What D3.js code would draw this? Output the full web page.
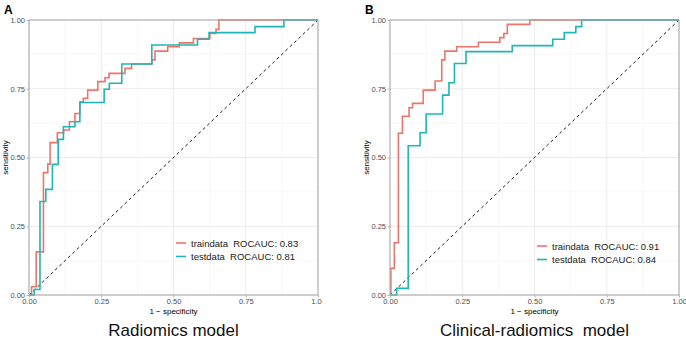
<!DOCTYPE html>
<html>
<head>
<meta charset="utf-8">
<script src="https://cdn.jsdelivr.net/npm/d3@7"></script>
<style>
  body { margin: 0; background: #fff; }
  svg { display: block; font-family: "Liberation Sans", Arial, sans-serif; }
  .tick text { fill: #4d4d4d; font-size: 7.5px; }
  .tick line { stroke: #b3b3b3; }
  .domain { display: none; }
</style>
</head>
<body>
<svg id="chart" width="686" height="344"></svg>
<script>
// ROC step points: horizontal to fpr[i], then up to tpr[i]
const fprTrainA = [0, 0.009, 0.025, 0.05, 0.065, 0.073, 0.098, 0.12, 0.14, 0.159, 0.176, 0.188, 0.203, 0.238, 0.263, 0.277, 0.332, 0.355, 0.425, 0.436, 0.48, 0.52, 0.569, 0.626, 0.647, 0.657, 1];
const tprTrainA = [0, 0.03, 0.157, 0.445, 0.476, 0.554, 0.59, 0.60, 0.63, 0.66, 0.703, 0.715, 0.745, 0.776, 0.79, 0.806, 0.824, 0.84, 0.855, 0.887, 0.903, 0.917, 0.933, 0.951, 0.966, 1, 1];
const fprTestA = [0, 0.018, 0.038, 0.058, 0.081, 0.101, 0.119, 0.159, 0.176, 0.26, 0.278, 0.321, 0.425, 0.583, 0.623, 0.782, 0.882, 1];
const tprTestA = [0, 0.02, 0.34, 0.384, 0.475, 0.566, 0.612, 0.63, 0.70, 0.748, 0.77, 0.84, 0.909, 0.93, 0.954, 0.976, 1, 1];

const fprTrainB = [0, 0.003, 0.015, 0.029, 0.043, 0.066, 0.078, 0.115, 0.156, 0.179, 0.19, 0.231, 0.306, 0.38, 0.394, 0.406, 0.484, 1];
const tprTrainB = [0, 0.097, 0.19, 0.588, 0.65, 0.681, 0.697, 0.745, 0.778, 0.855, 0.887, 0.903, 0.919, 0.936, 0.951, 0.984, 1, 1];
const fprTestB = [0, 0.023, 0.063, 0.104, 0.125, 0.182, 0.204, 0.223, 0.263, 0.423, 0.563, 0.603, 0.643, 0.663, 1];
const tprTestB = [0, 0.024, 0.543, 0.59, 0.658, 0.727, 0.772, 0.842, 0.885, 0.907, 0.93, 0.954, 0.976, 1, 1];

const tickValues = [0, 0.25, 0.5, 0.75, 1];
const seriesNames = ["traindata", "testdata"];
const aucA = [0.83, 0.81];
const aucB = [0.91, 0.84];
const colors = ["#EE746B", "#1EB6B8"];

const svg = d3.select("#chart");

const panels = [
  { tag: "A", left: 29, right: 318, title: "Radiomics model", clip: 322,
    lines: [[fprTrainA, tprTrainA], [fprTestA, tprTestA]], auc: aucA, legX: 176, legY: 243 },
  { tag: "B", left: 390, right: 679, title: "Clinical-radiomics  model", clip: 686,
    lines: [[fprTrainB, tprTrainB], [fprTestB, tprTestB]], auc: aucB, legX: 537, legY: 246 }
];

const plotTop = 20, plotBottom = 295;

panels.forEach(function(p, pi) {
  let x = d3.scaleLinear().domain([0, 1]).range([p.left, p.right]),
      y = d3.scaleLinear().domain([0, 1]).range([plotBottom, plotTop]);

  svg.append("clipPath").attr("id", "clip" + pi)
     .append("rect").attr("x", p.left - 40).attr("y", 0)
     .attr("width", p.clip - p.left + 40).attr("height", 344);

  let g = svg.append("g").attr("clip-path", "url(#clip" + pi + ")");

  // grid, minor then major
  let minor = d3.range(0.125, 1, 0.25);
  g.selectAll(".vminor").data(minor).join("line")
   .attr("x1", d => x(d)).attr("x2", d => x(d)).attr("y1", plotTop).attr("y2", plotBottom)
   .attr("stroke", "#f2f2f2").attr("stroke-width", 0.6);
  g.selectAll(".hminor").data(minor).join("line")
   .attr("y1", d => y(d)).attr("y2", d => y(d)).attr("x1", p.left).attr("x2", p.right)
   .attr("stroke", "#f2f2f2").attr("stroke-width", 0.6);
  g.selectAll(".vmajor").data(tickValues).join("line")
   .attr("x1", d => x(d)).attr("x2", d => x(d)).attr("y1", plotTop).attr("y2", plotBottom)
   .attr("stroke", "#e6e6e6").attr("stroke-width", 0.8);
  g.selectAll(".hmajor").data(tickValues).join("line")
   .attr("y1", d => y(d)).attr("y2", d => y(d)).attr("x1", p.left).attr("x2", p.right)
   .attr("stroke", "#e6e6e6").attr("stroke-width", 0.8);

  // diagonal reference
  g.append("line")
   .attr("x1", x(0)).attr("y1", y(0)).attr("x2", x(1)).attr("y2", y(1))
   .attr("stroke", "#000").attr("stroke-width", 0.9).attr("stroke-dasharray", "3,3");

  // ROC curves, test drawn last
  let line = d3.line().x(d => x(d[0])).y(d => y(d[1])).curve(d3.curveStepAfter);
  p.lines.forEach(function(s, si) {
    let pts = s[0].map((v, i) => [v, s[1][i]]);
    g.append("path").datum(pts)
     .attr("d", line).attr("fill", "none")
     .attr("stroke", colors[si]).attr("stroke-width", 1.6);
  });

  // panel border
  g.append("rect").attr("x", p.left).attr("y", plotTop)
   .attr("width", p.right - p.left).attr("height", plotBottom - plotTop)
   .attr("fill", "none").attr("stroke", "#a6a6a6").attr("stroke-width", 1);

  // axes
  g.append("g").attr("transform", "translate(0," + plotBottom + ")")
   .call(d3.axisBottom(x).tickValues(tickValues).tickFormat(d3.format(".2f")).tickSize(2.5).tickPadding(1.5));
  g.append("g").attr("transform", "translate(" + p.left + ",0)")
   .call(d3.axisLeft(y).tickValues(tickValues).tickFormat(d3.format(".2f")).tickSize(2.5).tickPadding(1.5));

  // axis titles
  let mid = (p.left + p.right) / 2;
  g.append("text").attr("x", mid).attr("y", 314).attr("text-anchor", "middle")
   .attr("font-size", 8).attr("fill", "#000").text("1 \u2212 specificity");
  g.append("text").attr("transform", "translate(" + (p.left - 21) + "," + ((plotTop + plotBottom) / 2) + ") rotate(-90)")
   .attr("text-anchor", "middle").attr("font-size", 8).attr("fill", "#000").text("sensitivity");

  // tag letter
  svg.append("text").attr("x", p.left - 25).attr("y", 14)
   .attr("font-size", 12).attr("font-weight", "bold").text(p.tag);

  // bottom title
  svg.append("text").attr("x", mid).attr("y", 336).attr("text-anchor", "middle")
   .attr("font-size", 17).attr("fill", "#111").style("white-space", "pre").text(p.title);

  // legend
  seriesNames.forEach(function(name, si) {
    let ly = p.legY + si * 13.5;
    g.append("line").attr("x1", p.legX).attr("x2", p.legX + 10)
     .attr("y1", ly).attr("y2", ly).attr("stroke", colors[si]).attr("stroke-width", 1.6);
    g.append("text").attr("x", p.legX + 15).attr("y", ly + 3.5)
     .attr("font-size", 9.5).attr("fill", "#1a1a1a").style("white-space", "pre")
     .text(name + "  ROCAUC: " + p.auc[si].toFixed(2));
  });
});
</script>
</body>
</html>
